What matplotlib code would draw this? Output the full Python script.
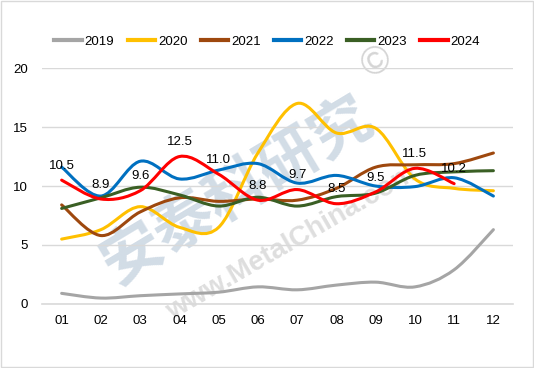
import matplotlib
matplotlib.use("Agg")
import matplotlib.pyplot as plt
from matplotlib.path import Path
from matplotlib.patches import PathPatch, Rectangle
from matplotlib.lines import Line2D

plt.rcParams['font.family'] = ['Liberation Sans', 'DejaVu Sans']

# --- datos ---
months = ["01", "02", "03", "04", "05", "06", "07", "08", "09", "10", "11", "12"]
years = ["2019", "2020", "2021", "2022", "2023", "2024"]
v2019 = [0.9, 0.5, 0.7, 0.85, 1.0, 1.45, 1.2, 1.6, 1.85, 1.45, 2.9, 6.3]
v2020 = [5.5, 6.3, 8.25, 6.5, 6.5, 12.8, 17.0, 14.5, 14.9, 10.6, 9.8, 9.6]
v2021 = [8.4, 5.8, 7.8, 9.0, 8.7, 8.9, 8.8, 9.8, 11.6, 11.8, 11.9, 12.8]
v2022 = [11.6, 9.15, 12.1, 10.6, 11.35, 11.9, 10.25, 10.9, 10.0, 9.95, 10.7, 9.15]
v2023 = [8.1, 9.0, 9.9, 9.25, 8.3, 9.05, 8.3, 9.1, 9.4, 10.9, 11.2, 11.3]
v2024 = [10.5, 8.9, 9.6, 12.5, 11.0, 8.8, 9.7, 8.5, 9.5, 11.5, 10.2]
series = [v2019, v2020, v2021, v2022, v2023, v2024]
colors = ["#a5a5a5", "#ffc000", "#9e480e", "#0070c0", "#3a5f24", "#ff0000"]

FS = 9.5


def smooth_path(xs, ys):
    # curva tipo Excel: Bezier cubica (Catmull-Rom)
    pts = list(zip(xs, ys))
    n = len(pts)
    verts = [pts[0]]
    codes = [Path.MOVETO]
    for i in range(n - 1):
        p0 = pts[i - 1] if i > 0 else pts[i]
        p1 = pts[i]
        p2 = pts[i + 1]
        p3 = pts[i + 2] if i + 2 < n else pts[i + 1]
        c1 = (p1[0] + (p2[0] - p0[0]) / 6, p1[1] + (p2[1] - p0[1]) / 6)
        c2 = (p2[0] - (p3[0] - p1[0]) / 6, p2[1] - (p3[1] - p1[1]) / 6)
        verts += [c1, c2, p2]
        codes += [Path.CURVE4] * 3
    return Path(verts, codes)


fig = plt.figure(figsize=(5.34, 3.68), dpi=100)
ax = fig.add_axes([0.0787, 0.174, 0.882, 0.641])

# marca de agua
ax.text(0.415, 0.48, "安泰科研究", transform=ax.transAxes, rotation=31,
        fontsize=44, fontweight='bold', color="#c3d1de", alpha=0.75,
        ha='center', va='center', family=['Noto Sans CJK SC'], zorder=0.5)
ax.text(0.53, 0.26, "www.MetalChina.com", transform=ax.transAxes, rotation=30,
        fontsize=20, fontweight='bold', color="#d6d6d6", alpha=0.8,
        ha='center', va='center', zorder=0.5)
ax.text(0.71, 1.02, "©", transform=ax.transAxes, rotation=30,
        fontsize=28, color="#d5d5d5", ha='center', va='center', zorder=0.5)

handles = []
for yr, vals, col in zip(years, series, colors):
    xs = list(range(len(vals)))
    ax.add_patch(PathPatch(smooth_path(xs, vals), fill=False, edgecolor=col,
                           lw=2.2, capstyle='round', zorder=3))
    handles.append(Line2D([], [], color=col, lw=3))

for i, v in enumerate(v2024):
    ax.annotate(f"{v:.1f}", (i, v), xytext=(0, 6), textcoords='offset points',
                ha='center', va='bottom', fontsize=FS, color='black', zorder=5)

ax.set_xlim(-0.5, 11.5)
ax.set_ylim(0, 20)
ax.set_xticks(range(len(months)))
ax.set_xticklabels(months)
ax.set_yticks([0, 5, 10, 15, 20])
ax.tick_params(length=0, labelsize=FS)
ax.tick_params(axis='x', pad=8)
ax.tick_params(axis='y', pad=10)
ax.grid(axis='y', color="#d9d9d9", lw=1)
ax.set_axisbelow(True)
for s in ['top', 'right', 'left']:
    ax.spines[s].set_visible(False)
ax.spines['bottom'].set_color("#d9d9d9")
ax.spines['bottom'].set_linewidth(1.2)

fig.legend(handles, years, loc='center', bbox_to_anchor=(0.5, 0.886), ncol=6,
           frameon=False, fontsize=FS, handlelength=2.1, handletextpad=0.2,
           columnspacing=1.0)

fig.patches.append(Rectangle((0.001, 0.002), 0.997, 0.995, transform=fig.transFigure,
                             fill=False, edgecolor="#d9d9d9", lw=1))

fig.savefig("out.png", dpi=100)
